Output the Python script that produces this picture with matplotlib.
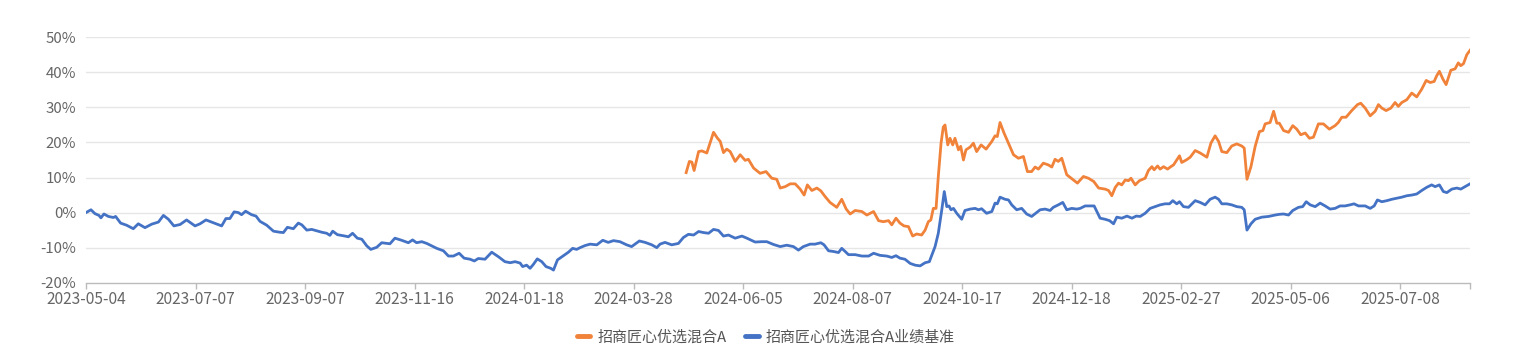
import matplotlib.pyplot as plt
from matplotlib.lines import Line2D

plt.rcParams['font.family'] = ['Noto Sans CJK SC', 'DejaVu Sans']

# category axis: one slot per trading day, labels every 44 days
n_days = 557
tick_step = 44
tick_dates = ['2023-05-04', '2023-07-07', '2023-09-07', '2023-11-16', '2024-01-18',
              '2024-03-28', '2024-06-05', '2024-08-07', '2024-10-17', '2024-12-18',
              '2025-02-27', '2025-05-06', '2025-07-08']

series_names = ['招商匠心优选混合A', '招商匠心优选混合A业绩基准']
colors = ['#F0823A', '#4472C4']

# fund (orange), day index -> return %
fund_x = [241.1, 242.4, 243.4, 244.3, 246.1, 247.4, 249.4, 250.7, 252.1, 253.7, 254.8, 256.1,
          257.4, 258.8, 260.8, 262.8, 264.8, 266.1, 268.2, 270.8, 273.2, 275.5, 277.5, 278.9,
          280.9, 282.9, 284.9, 286.9, 288.5, 289.8, 291.6, 293.6, 295.2, 296.9, 298.9, 301.6,
          303.6, 305.4, 307.0, 309.0, 311.7, 313.7, 316.4, 318.4, 320.3, 322.4, 323.7, 325.4,
          327.0, 328.6, 330.4, 332.1, 333.7, 335.7, 337.1, 338.4, 339.4, 340.4, 341.5, 342.4,
          343.5, 344.4, 345.1, 346.2, 347.1, 348.2, 349.1, 350.5, 351.4, 352.5, 353.5, 355.2,
          356.5, 357.8, 359.6, 361.6, 363.9, 365.2, 366.1, 367.2, 368.8, 370.6, 372.6, 374.6,
          376.6, 378.2, 379.9, 381.3, 382.6, 384.6, 386.6, 388.0, 389.3, 390.6, 392.0, 394.0,
          396.7, 398.3, 399.4, 400.7, 402.7, 404.8, 406.8, 409.4, 410.8, 412.1, 413.5, 414.8,
          416.1, 417.5, 418.8, 419.8, 421.5, 423.2, 425.5, 426.8, 428.2, 429.1, 430.5, 431.5,
          432.9, 434.5, 435.8, 436.9, 438.2, 439.3, 440.2, 442.0, 443.6, 445.6, 447.6, 450.3,
          451.9, 453.6, 455.0, 456.3, 458.3, 460.3, 462.3, 464.3, 465.3, 466.4, 468.0, 469.7,
          471.4, 472.8, 473.7, 475.7, 477.1, 478.4, 479.4, 481.1, 483.1, 484.8, 486.4, 488.0,
          489.8, 491.5, 493.1, 495.1, 497.1, 499.5, 501.8, 503.1, 504.5, 506.2, 508.5, 510.8,
          512.1, 513.9, 515.9, 517.9, 519.2, 520.6, 522.3, 524.2, 525.9, 527.2, 528.6, 530.6,
          532.6, 534.6, 536.6, 538.4, 540.0, 541.6, 542.6, 543.7, 545.1, 546.4, 548.3, 550.0,
          551.3, 552.3, 553.4, 554.7, 556.0]
fund_y = [11.4, 14.6, 14.4, 12.0, 17.4, 17.6, 17.0, 19.8, 22.9, 21.2, 20.3, 17.1,
          18.1, 17.4, 14.6, 16.5, 14.9, 15.2, 12.7, 11.2, 11.7, 9.8, 9.5, 7.0,
          7.4, 8.2, 8.2, 6.7, 5.0, 7.9, 6.3, 7.0, 6.2, 4.6, 2.9, 1.5,
          3.8, 1.0, -0.4, 0.6, 0.3, -0.7, 0.3, -2.3, -2.6, -2.3, -3.5, -1.6,
          -3.0, -3.8, -4.0, -6.7, -6.1, -6.4, -5.0, -2.6, -2.1, 1.2, 1.2, 10.3,
          19.8, 24.4, 25.0, 19.3, 21.2, 19.3, 21.2, 17.9, 18.9, 15.0, 17.9, 18.7,
          19.8, 17.4, 19.3, 18.1, 20.3, 21.9, 21.7, 25.7, 22.7, 19.8, 16.5, 15.5,
          16.0, 11.7, 11.7, 13.0, 12.4, 14.1, 13.6, 13.0, 15.2, 14.6, 15.5, 10.8,
          9.3, 8.4, 9.3, 10.3, 9.8, 8.9, 7.0, 6.7, 6.3, 4.8, 7.2, 8.4,
          7.9, 9.3, 9.1, 9.8, 7.9, 9.1, 9.8, 12.0, 13.1, 12.2, 13.3, 12.4,
          13.1, 12.4, 13.1, 13.6, 15.0, 16.2, 14.3, 15.0, 15.8, 17.7, 17.0, 15.8,
          19.8, 21.9, 20.3, 17.4, 17.1, 19.0, 19.6, 19.0, 18.4, 9.5, 13.1, 18.9,
          23.1, 23.4, 25.3, 25.7, 28.9, 25.5, 25.5, 23.4, 22.9, 24.8, 23.8, 22.2,
          22.7, 21.2, 21.5, 25.3, 25.3, 23.8, 24.8, 25.7, 27.2, 27.2, 29.1, 30.8,
          31.2, 29.8, 27.6, 28.9, 30.8, 29.8, 29.1, 29.8, 31.4, 30.3, 31.4, 32.2,
          34.1, 33.0, 35.2, 37.7, 37.1, 37.4, 39.0, 40.3, 38.1, 36.5, 40.6, 41.0,
          42.7, 41.9, 42.5, 45.0, 46.3]

# benchmark (blue)
bench_x = [0, 2, 3.6, 5.2, 6.0, 7.2, 9.0, 11.0, 11.9, 13.9, 16.3, 19.0,
           21.0, 23.7, 26.4, 29.1, 31.1, 33.1, 35.3, 37.8, 40.4, 43.8, 45.8, 48.2,
           51.2, 54.5, 56.2, 57.8, 59.5, 61.2, 62.5, 64.1, 66.5, 68.3, 69.9, 72.6,
           75.3, 77.8, 79.3, 80.9, 83.3, 85.3, 86.7, 88.7, 90.7, 92.7, 94.7, 96.7,
           98.0, 99.1, 101.0, 104.1, 105.4, 107.1, 109.0, 110.8, 112.8, 114.4, 116.8, 118.8,
           122.1, 124.1, 126.8, 129.5, 131.2, 132.8, 134.9, 136.9, 138.9, 140.9, 143.6, 145.6,
           147.6, 149.9, 151.9, 154.3, 156.0, 157.6, 160.3, 163.0, 165.7, 168.3, 170.4, 172.4,
           174.4, 175.4, 177.0, 178.4, 179.7, 181.3, 183.1, 184.8, 186.7, 187.8, 189.4, 191.8,
           193.8, 195.5, 197.1, 198.5, 200.5, 202.5, 205.2, 207.6, 209.8, 211.9, 214.5, 217.2,
           219.2, 222.3, 224.6, 227.3, 229.3, 230.6, 232.6, 235.3, 238.0, 240.0, 242.0, 244.1,
           246.1, 248.1, 250.1, 252.1, 254.1, 256.1, 258.1, 260.8, 263.5, 265.5, 268.8, 271.5,
           273.5, 276.2, 278.9, 281.5, 284.2, 286.2, 288.2, 290.9, 292.9, 295.2, 296.5, 298.3,
           300.3, 302.3, 303.6, 305.0, 306.3, 309.0, 311.7, 314.4, 316.4, 319.0, 321.7, 323.7,
           325.4, 327.0, 329.0, 331.1, 333.1, 335.1, 337.1, 338.8, 339.8, 341.1, 342.4, 343.8,
           344.8, 345.8, 346.7, 347.5, 348.5, 349.8, 351.8, 353.1, 355.2, 357.2, 358.5, 359.8,
           361.8, 363.9, 365.2, 366.1, 367.2, 369.2, 370.6, 371.9, 373.9, 375.9, 377.9, 379.9,
           381.9, 383.3, 385.3, 387.3, 388.6, 390.6, 392.4, 394.0, 396.0, 398.0, 399.4, 401.4,
           403.4, 405.0, 406.1, 407.4, 409.4, 411.2, 412.8, 414.1, 416.1, 418.2, 420.2, 421.9,
           423.5, 425.5, 427.5, 429.5, 431.5, 433.5, 435.3, 436.6, 438.2, 439.3, 440.9, 442.9,
           445.6, 447.6, 449.6, 451.6, 453.6, 455.0, 456.3, 458.3, 460.3, 462.3, 464.3, 465.3,
           466.4, 468.0, 469.7, 472.4, 475.1, 477.7, 479.4, 481.1, 483.1, 484.8, 487.1, 488.8,
           490.2, 491.8, 493.8, 495.8, 497.8, 499.8, 501.8, 503.8, 505.8, 507.8, 509.4, 511.2,
           513.9, 515.9, 517.5, 518.8, 520.6, 522.6, 524.6, 526.6, 528.6, 530.6, 532.6, 534.6,
           536.6, 538.6, 540.6, 542.0, 543.7, 545.3, 546.7, 548.7, 550.7, 552.3, 554.0, 556.0]
bench_y = [0.0, 0.8, -0.3, -0.8, -1.5, -0.4, -1.1, -1.4, -1.1, -3.0, -3.6, -4.6,
           -3.2, -4.3, -3.3, -2.7, -0.8, -1.9, -3.8, -3.4, -2.1, -3.8, -3.2, -2.1,
           -2.9, -3.8, -1.7, -1.7, 0.2, 0.0, -0.6, 0.4, -0.6, -1.0, -2.5, -3.6,
           -5.3, -5.6, -5.7, -4.2, -4.6, -3.0, -3.5, -5.0, -4.8, -5.2, -5.6, -5.9,
           -6.5, -5.3, -6.3, -6.7, -6.9, -5.9, -7.3, -7.6, -9.5, -10.5, -9.9, -8.6,
           -8.9, -7.3, -7.9, -8.6, -7.8, -8.6, -8.3, -8.8, -9.5, -10.2, -10.9, -12.4,
           -12.4, -11.6, -13.0, -13.3, -13.8, -13.1, -13.3, -11.3, -12.6, -14.0, -14.3, -14.0,
           -14.4, -15.4, -15.0, -15.9, -14.8, -13.2, -14.0, -15.4, -15.9, -16.4, -13.5, -12.3,
           -11.3, -10.2, -10.5, -10.0, -9.4, -9.0, -9.2, -7.9, -8.5, -8.0, -8.3, -9.2,
           -9.7, -8.1, -8.5, -9.2, -10.0, -9.0, -8.5, -9.2, -8.8, -7.1, -6.2, -6.4,
           -5.4, -5.7, -5.9, -4.8, -5.1, -6.7, -6.4, -7.3, -6.7, -7.3, -8.4, -8.3,
           -8.3, -9.1, -9.7, -9.3, -9.7, -10.7, -9.7, -9.0, -9.0, -8.6, -9.2, -10.9,
           -11.1, -11.4, -10.2, -11.1, -12.0, -12.0, -12.4, -12.4, -11.6, -12.2, -12.4, -12.8,
           -12.3, -13.0, -13.3, -14.5, -15.0, -15.2, -14.3, -14.0, -12.1, -9.7, -5.9, 0.8,
           6.0, 1.7, 1.9, 0.8, 1.2, -0.2, -1.9, 0.6, 1.0, 1.2, 0.8, 1.1,
           -0.2, 0.3, 2.7, 2.5, 4.4, 3.8, 3.6, 2.2, 0.8, 1.2, -0.4, -1.1,
           0.0, 0.8, 1.0, 0.6, 1.5, 2.2, 2.9, 0.8, 1.2, 1.0, 1.2, 1.9,
           1.9, 1.9, 0.3, -1.6, -1.9, -2.3, -3.2, -1.3, -1.6, -1.0, -1.6, -1.0,
           -1.1, -0.2, 1.2, 1.7, 2.2, 2.5, 2.5, 3.4, 2.5, 3.1, 1.7, 1.5,
           3.4, 2.9, 2.2, 3.8, 4.4, 3.8, 2.5, 2.5, 2.2, 1.7, 1.5, 0.8,
           -5.0, -3.2, -1.9, -1.3, -1.1, -0.7, -0.5, -0.4, -0.7, 0.6, 1.5, 1.7,
           3.1, 2.2, 1.7, 2.7, 1.9, 1.0, 1.2, 1.9, 1.9, 2.2, 2.5, 1.9,
           1.9, 1.2, 1.9, 3.6, 3.1, 3.4, 3.8, 4.1, 4.4, 4.8, 5.0, 5.3,
           6.3, 7.2, 7.9, 7.4, 7.9, 6.0, 5.7, 6.7, 7.0, 6.7, 7.4, 8.2]

W, H = 1532, 352
fig = plt.figure(figsize=(W / 100, H / 100), dpi=100)
ax = fig.add_axes([86 / W, (H - 282.7) / H, (1470 - 86) / W, (282.7 - 37.3) / H])

ax.plot(fund_x, fund_y, color=colors[0], lw=2.0, solid_joinstyle='round')
ax.plot(bench_x, bench_y, color=colors[1], lw=2.0, solid_joinstyle='round')

ax.set_xlim(0, n_days - 1)
ax.set_ylim(-20, 50)

yt = list(range(-20, 51, 10))
ax.set_yticks(yt)
ax.set_yticklabels([f'{v}%' for v in yt])
for v in yt[1:]:
    ax.axhline(v, color='#e6e6e6', lw=1.0, zorder=0)

ax.set_xticks([i * tick_step for i in range(len(tick_dates))])
ax.set_xticklabels(tick_dates)
ax.set_xticks([n_days - 1], minor=True)

for s in ['top', 'right', 'left']:
    ax.spines[s].set_visible(False)
ax.spines['bottom'].set_color('#bbbbbb')
ax.spines['bottom'].set_linewidth(1.0)

ax.tick_params(axis='y', length=0, pad=7, labelsize=10.8, labelcolor='#666666')
ax.tick_params(axis='x', which='both', length=4, width=1, color='#bbbbbb',
               pad=2, labelsize=11.2, labelcolor='#666666')

handles = [Line2D([], [], color=c, lw=3.5, solid_capstyle='round') for c in colors]
fig.legend(handles, series_names, loc='center', bbox_to_anchor=(0.5, 14.5 / H),
           ncol=2, frameon=False, fontsize=10.8, labelcolor='#555555',
           handlelength=0.9, handletextpad=0.5, columnspacing=1.2)

fig.savefig('out.png', dpi=100, facecolor='white')
